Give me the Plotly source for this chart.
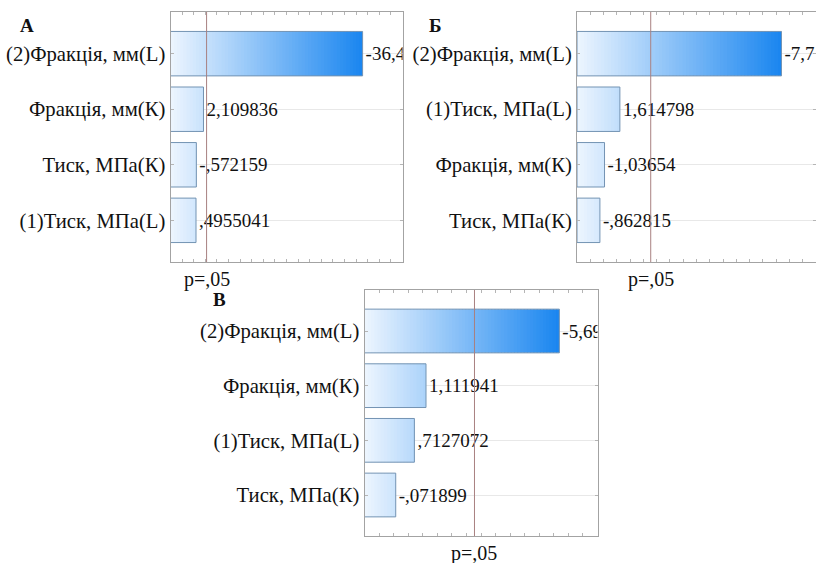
import plotly.graph_objects as go
import numpy as np

# ---------------- data ----------------
labels_a = ["(2)Фракція, мм(L)", "Фракція, мм(К)", "Тиск, МПа(К)", "(1)Тиск, МПа(L)"]
values_a = [-36.4, 2.109836, -0.572159, 0.4955041]
texts_a = ["-36,4", "2,109836", "-,572159", ",4955041"]

labels_b = ["(2)Фракція, мм(L)", "(1)Тиск, МПа(L)", "Фракція, мм(К)", "Тиск, МПа(К)"]
values_b = [-7.7, 1.614798, -1.03654, -0.862815]
texts_b = ["-7,7", "1,614798", "-1,03654", "-,862815"]

labels_c = ["(2)Фракція, мм(L)", "Фракція, мм(К)", "(1)Тиск, МПа(L)", "Тиск, МПа(К)"]
values_c = [-5.69, 1.111941, 0.7127072, -0.071899]
texts_c = ["-5,69", "1,111941", ",7127072", "-,071899"]

panel_names = ["А", "Б", "В"]
p_crit = 2.776          # critical t for p = .05
p_label = "p=,05"

# ---------------- styling ----------------
W, H = 816, 563
FONT = "Liberation Serif"
C_LIGHT = np.array([238, 246, 255])
C_DARK = np.array([26, 134, 240])
BORDER = "#7393b3"
FRAME = "#a3a3a3"

# panel placement (pixels): left, right, top, bottom ; x range
panels = [
    dict(lab=labels_a, val=values_a, txt=texts_a, px=(170.5, 402.5, 12, 262), xr=(-5, 45),
         dtick=2.5, name_xy=(27, 26)),
    dict(lab=labels_b, val=values_b, txt=texts_b, px=(577, 816, 12, 262), xr=(0, 9),
         dtick=0.5, name_xy=(435, 26)),
    dict(lab=labels_c, val=values_c, txt=texts_c, px=(364.5, 597.5, 290, 536), xr=(-1, 7),
         dtick=0.5, name_xy=(219, 299)),
]

fig = go.Figure()
N_SEG = 60

for i, p in enumerate(panels):
    xa = "x" if i == 0 else f"x{i+1}"
    ya = "y" if i == 0 else f"y{i+1}"
    xmin, xmax = p["xr"]
    ends = [abs(v) for v in p["val"]]
    top_end = max(ends)
    edges = np.linspace(xmin, top_end, N_SEG + 1)
    seg_w = edges[1] - edges[0]
    # gradient fill built from thin segments
    for k in range(N_SEG):
        lo = edges[k]
        t = (k + 0.5) / N_SEG
        col = C_LIGHT + (C_DARK - C_LIGHT) * t
        colstr = "rgb(%d,%d,%d)" % tuple(col.astype(int))
        lens = []
        for e in ends:
            L = min(e - lo, seg_w * 1.35)
            lens.append(L if L > 0 else None)
        fig.add_trace(go.Bar(
            y=p["lab"], x=lens, base=[lo] * len(ends), orientation="h",
            width=0.8, marker=dict(color=colstr, line=dict(width=0)),
            xaxis=xa, yaxis=ya, showlegend=False, hoverinfo="skip"))
    # outline + value labels
    fig.add_trace(go.Bar(
        y=p["lab"], x=[e - xmin for e in ends], base=[xmin] * len(ends), orientation="h",
        width=0.8, marker=dict(color="rgba(0,0,0,0)", line=dict(color=BORDER, width=1)),
        text=p["txt"], textposition="outside", constraintext="none", cliponaxis=True,
        textfont=dict(family=FONT, size=19, color="#111"),
        xaxis=xa, yaxis=ya, showlegend=False, hoverinfo="skip"))

    l, r, tp, bt = p["px"]
    xdom = [l / W, r / W]
    ydom = [1 - bt / H, 1 - tp / H]
    xkey = "xaxis" if i == 0 else f"xaxis{i+1}"
    ykey = "yaxis" if i == 0 else f"yaxis{i+1}"
    fig.update_layout(**{
        xkey: dict(domain=xdom, range=[xmin, xmax], anchor=ya, showgrid=False, zeroline=False,
                   showticklabels=False, ticks="inside", ticklen=3, tickcolor="#b5b5b5",
                   dtick=p["dtick"], tick0=xmin, showline=True, linecolor=FRAME, linewidth=1,
                   mirror="ticks"),
        ykey: dict(domain=ydom, range=[3.75, -0.75], anchor=xa, type="category",
                   showgrid=True, gridcolor="#e8e8e8", gridwidth=1, zeroline=False,
                   ticks="inside", ticklen=3, tickcolor="#b5b5b5",
                   showline=True, linecolor=FRAME, linewidth=1, mirror="ticks",
                   tickfont=dict(family=FONT, size=20.7, color="#111")),
    })
    # p = .05 line
    fig.add_shape(type="line", xref=xa, yref=f"{ya} domain", x0=p_crit, x1=p_crit, y0=0, y1=1,
                  line=dict(color="#a88080", width=1), layer="above")
    fig.add_annotation(xref=xa, yref=f"{ya} domain", x=p_crit, y=0, yshift=-4,
                       text=p_label, showarrow=False, xanchor="center", yanchor="top",
                       font=dict(family=FONT, size=20, color="#111"))
    nx, ny = p["name_xy"]
    fig.add_annotation(xref="paper", yref="paper", x=nx / W, y=1 - ny / H,
                       text=f"<b>{panel_names[i]}</b>", showarrow=False,
                       xanchor="center", yanchor="middle",
                       font=dict(family=FONT, size=19, color="#111"))

fig.update_layout(width=W, height=H, margin=dict(l=0, r=0, t=0, b=0),
                  paper_bgcolor="white", plot_bgcolor="white", barmode="overlay",
                  bargap=0.2, showlegend=False)

fig.write_html("out.html", config={"displayModeBar": False},
               post_script="document.body.style.margin='0';document.body.style.padding='0';")
